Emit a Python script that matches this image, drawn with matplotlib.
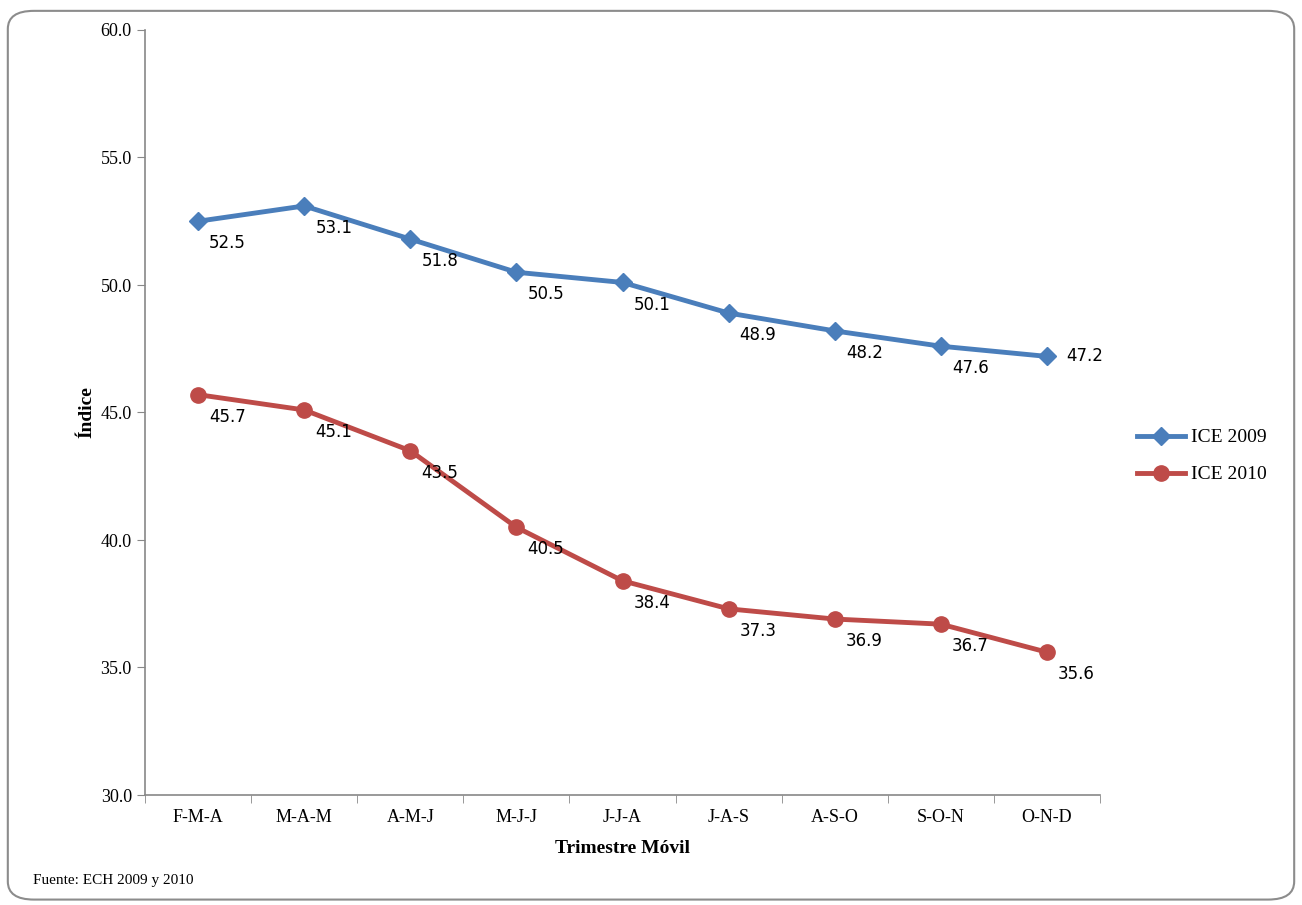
import matplotlib.pyplot as plt
from matplotlib.patches import FancyBboxPatch

categories = ["F-M-A", "M-A-M", "A-M-J", "M-J-J", "J-J-A", "J-A-S", "A-S-O", "S-O-N", "O-N-D"]
ice_2009 = [52.5, 53.1, 51.8, 50.5, 50.1, 48.9, 48.2, 47.6, 47.2]
ice_2010 = [45.7, 45.1, 43.5, 40.5, 38.4, 37.3, 36.9, 36.7, 35.6]

serif = "Liberation Serif"
fig = plt.figure(figsize=(13.02, 9.05), dpi=100)
fig.patches.append(FancyBboxPatch((0.006, 0.006), 0.988, 0.982, boxstyle="round,pad=0,rounding_size=0.02",
                                  transform=fig.transFigure, fill=False, edgecolor="#8c8c8c", linewidth=1.5))
ax = fig.add_axes([145 / 1302, 1 - 795 / 905, 955 / 1302, 765 / 905])
x = range(len(categories))
ax.plot(x, ice_2009, color="#4a7ebb", linewidth=3.5, marker="D", markersize=9, label="ICE 2009")
ax.plot(x, ice_2010, color="#be4b48", linewidth=3.5, marker="o", markersize=11, label="ICE 2010")
for xi, v in zip(x, ice_2009):
    off = (14, 0) if xi == len(categories) - 1 else (8, -16)
    ax.annotate(f"{v:.1f}", (xi, v), xytext=off, textcoords="offset points", fontsize=12, va="center")
for xi, v in zip(x, ice_2010):
    ax.annotate(f"{v:.1f}", (xi, v), xytext=(8, -16), textcoords="offset points", fontsize=12, va="center")

ax.set_xlim(-0.5, 8.5)
ax.set_ylim(30, 60)
ax.set_yticks(range(30, 61, 5))
ax.set_yticklabels([f"{t:.1f}" for t in range(30, 61, 5)], fontfamily=serif, fontsize=13)
ax.set_xticks(list(x))
ax.set_xticklabels(categories, fontfamily=serif, fontsize=13)
ax.set_xticks([i - 0.5 for i in range(10)], minor=True)
ax.tick_params(axis="x", which="major", length=0, pad=10)
ax.tick_params(axis="x", which="minor", length=6, color="#888888")
ax.tick_params(axis="y", length=6, color="#888888")
for s in ["top", "right"]:
    ax.spines[s].set_visible(False)
for s in ["left", "bottom"]:
    ax.spines[s].set_color("#888888")
    ax.spines[s].set_linewidth(1.2)
ax.set_ylabel("Índice", fontfamily=serif, fontsize=14, fontweight="bold")
ax.set_xlabel("Trimestre Móvil", fontfamily=serif, fontsize=14, fontweight="bold", labelpad=10)
ax.legend(loc="center left", bbox_to_anchor=(1.02, 0.443), frameon=False, prop={"family": serif, "size": 14},
          handlelength=2.5, labelspacing=1.0, handletextpad=0.3)
fig.text(33 / 1302, 1 - 880 / 905, "Fuente: ECH 2009 y 2010", fontfamily=serif, fontsize=11, va="center")
fig.savefig("out.png", dpi=100)
